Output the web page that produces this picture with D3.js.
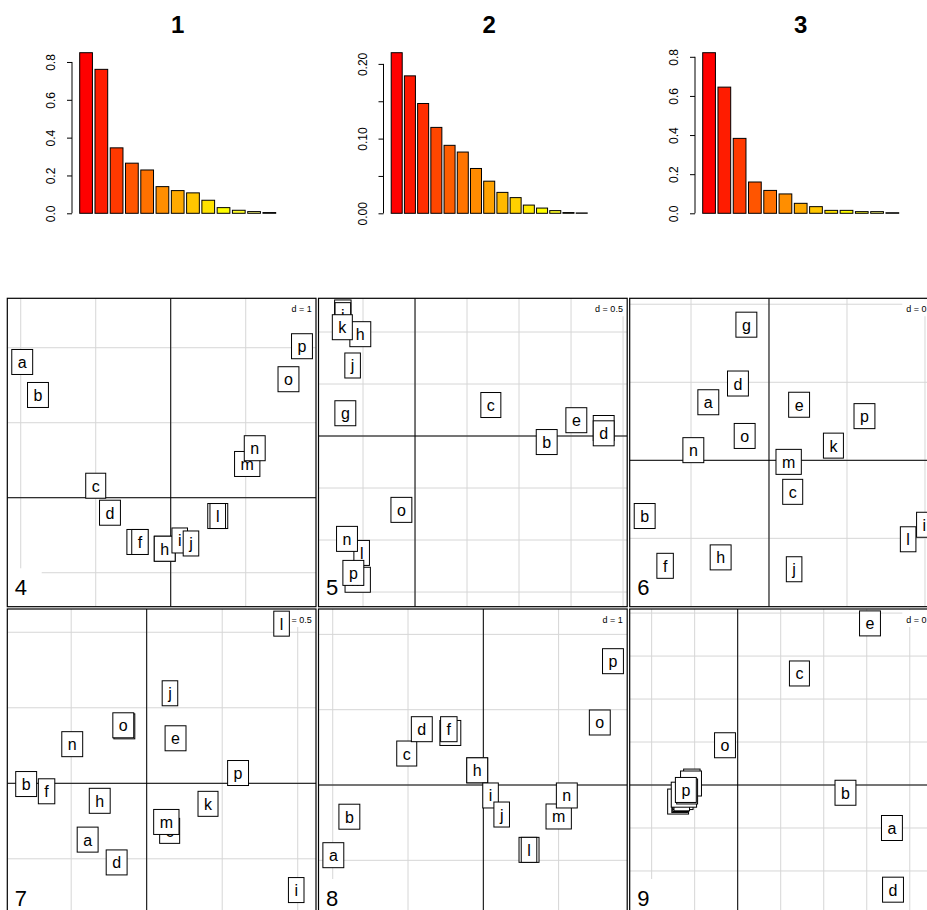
<!DOCTYPE html>
<html>
<head>
<meta charset="utf-8">
<script src="https://cdn.jsdelivr.net/npm/d3@7/dist/d3.min.js"></script>
<style>
  body { margin: 0; background: #fff; }
  svg { display: block; font-family: "Liberation Sans", Arial, sans-serif; }
</style>
</head>
<body>
<svg id="fig"></svg>
<script>
// eigenvalue screeplots (top row)
const eig1 = [0.849, 0.761, 0.346, 0.265, 0.229, 0.141, 0.120, 0.108, 0.069, 0.030, 0.016, 0.009, 0.004];
const eig2 = [0.215, 0.184, 0.147, 0.115, 0.091, 0.082, 0.060, 0.043, 0.028, 0.021, 0.011, 0.007, 0.0036, 0.001, 0.0005];
const eig3 = [0.821, 0.645, 0.383, 0.160, 0.117, 0.099, 0.051, 0.034, 0.015, 0.015, 0.0085, 0.0085, 0.003];
const barTitles = ["1", "2", "3"];
const barTicks = [[0, 0.2, 0.4, 0.6, 0.8], [0, 0.05, 0.10, 0.15, 0.20], [0, 0.2, 0.4, 0.6, 0.8]];
const barTickLabels = [["0.0", "0.2", "0.4", "0.6", "0.8"], ["0.00", "", "0.10", "", "0.20"], ["0.0", "0.2", "0.4", "0.6", "0.8"]];

// scatter panels (s.label) - row labels
const letters = ["a","b","c","d","e","f","g","h","i","j","k","l","m","n","o","p"];
const p4x = [-1.98, -1.77, -1.00, -0.81, -0.445, -0.41, -0.08, -0.08, 0.12, 0.27, 0.627, 0.627, 1.02, 1.12, 1.57, 1.75];
const p4y = [1.81, 1.37, 0.16, -0.20, -0.59, -0.59, -0.68, -0.68, -0.57, -0.61, -0.244, -0.244, 0.45, 0.66, 1.58, 2.02];
const p5x = [1.814, 1.266, 0.729, 1.814, 1.551, -0.694, -0.67, -0.526, -0.694, -0.60, -0.699, -0.513, -0.551, -0.654, -0.131, -0.593];
const p5y = [0.077, -0.058, 0.298, 0.026, 0.152, 1.188, 0.219, 0.979, 1.162, 0.678, 1.046, -1.124, -1.382, -0.989, -0.710, -1.316];
const p6x = [-0.389, -0.797, 0.152, -0.199, 0.193, -0.666, -0.145, -0.310, 0.996, 0.161, 0.413, 0.892, 0.126, -0.485, -0.156, 0.612];
const p6y = [0.372, -0.357, -0.202, 0.492, 0.356, -0.676, 0.869, -0.622, -0.413, -0.698, 0.094, -0.506, -0.010, 0.065, 0.156, 0.283];
const p7x = [-0.391, -0.798, 0.152, -0.199, 0.191, -0.663, -0.148, -0.311, 0.990, 0.154, 0.406, 0.893, 0.130, -0.493, -0.155, 0.605];
const p7y = [-0.373, -0.005, -0.315, -0.524, 0.298, -0.053, 0.377, -0.116, -0.707, 0.596, -0.136, 1.057, -0.256, 0.259, 0.384, 0.068];
const p8x = [-1.992, -1.779, -1.017, -0.817, -0.438, -0.458, -0.081, -0.081, 0.096, 0.244, 0.607, 0.607, 1.001, 1.109, 1.547, 1.722];
const p8y = [-0.932, -0.421, 0.418, 0.741, 0.691, 0.741, 0.195, 0.195, -0.139, -0.392, -0.861, -0.861, -0.418, -0.139, 0.830, 1.644];
const p9x = [0.717, 0.501, 0.287, 0.722, 0.615, -0.213, -0.217, -0.277, -0.270, -0.266, -0.254, -0.260, -0.250, -0.235, -0.059, -0.241];
const p9y = [-0.200, -0.036, 0.519, -0.487, 0.752, 0.016, 0.007, -0.077, -0.070, -0.065, -0.056, -0.062, -0.045, -0.030, 0.185, -0.023];

const panelNames = ["4", "5", "6", "7", "8", "9"];
const panelXlim = [[-2.179, 1.937], [-0.928, 2.040], [-0.893, 1.086], [-0.923, 1.121], [-2.189, 1.911], [-0.502, 0.933]];
const panelYlim = [[-1.453, 2.659], [-1.641, 1.324], [-0.938, 1.038], [-0.888, 1.154], [-1.758, 2.337], [-0.616, 0.819]];
const gridStep = [1, 0.5, 0.5, 0.5, 1, 0.2];

const W = 927, H = 910;
const svg = d3.select('#fig').attr('width', W).attr('height', H);

// R heat.colors
function heatColors(n) {
    const j = Math.floor(n / 4), i = n - j;
    const out = [];
    for (let k = 0; k < i; k++) {
        const h = i > 1 ? (k / (i - 1)) * 60 : 0;
        out.push(d3.hsl(h, 1, 0.5).formatHex());
    }
    for (let k = 0; k < j; k++) {
        const s = j > 1 ? (1 - 1 / (2 * j)) - k * ((1 - 1 / j) / (j - 1)) : 0.5;
        // hsv(1/6, s, 1) -> rgb(255, 255, 255*(1-s))
        out.push(d3.rgb(255, 255, Math.round(255 * (1 - s))).formatHex());
    }
    return out;
}

// ---- top row: bar plots
const barSets = [eig1, eig2, eig3];
barSets.forEach((vals, c) => {
    const off = c * 311.5;
    const g = svg.append('g');
    const x = d3.scaleBand()
        .domain(d3.range(vals.length))
        .range([79.7 + off, 275.7 + off])
        .paddingInner(1 / 6)
        .paddingOuter(0);
    const y = d3.scaleLinear()
        .domain([0, d3.max(vals)])
        .range([213.3, 52.7]);
    const cols = heatColors(vals.length);

    g.selectAll('rect')
        .data(vals)
        .enter()
        .append('rect')
        .attr('x', (d, i) => x(i))
        .attr('y', d => y(d))
        .attr('width', x.bandwidth())
        .attr('height', d => y(0) - y(d))
        .attr('fill', (d, i) => cols[i])
        .attr('stroke', '#000')
        .attr('stroke-width', 1);

    const ticks = barTicks[c];
    const ax = g.append('g')
        .attr('transform', `translate(${72 + off},0)`)
        .call(d3.axisLeft(y).tickValues(ticks).tickSize(5)
            .tickFormat((d, i) => barTickLabels[c][i]));
    ax.select('.domain').remove();
    ax.selectAll('.tick line').attr('stroke', '#000');
    ax.append('line')
        .attr('y1', y(ticks[0])).attr('y2', y(ticks[ticks.length - 1]))
        .attr('stroke', '#000');
    ax.selectAll('.tick text')
        .attr('transform', 'rotate(-90)')
        .attr('x', 0).attr('y', -17).attr('dy', 0)
        .attr('text-anchor', 'middle')
        .attr('fill', '#000')
        .style('font-size', '12px')
        .style('font-family', '"Liberation Sans", Arial, sans-serif');

    g.append('text')
        .attr('x', (79.7 + 275.7) / 2 + off)
        .attr('y', 33)
        .attr('text-anchor', 'middle')
        .style('font-size', '24px')
        .style('font-weight', 'bold')
        .text(barTitles[c]);
});

// ---- bottom: s.label panels
const px = [p4x, p5x, p6x, p7x, p8x, p9x];
const py = [p4y, p5y, p6y, p7y, p8y, p9y];
const colLeft = [7.3, 318.5, 629.7];
const rowTop = [298.3, 609];
const pw = 308.7, ph = 308.4;
const defs = svg.append('defs');

panelNames.forEach((name, k) => {
    const left = colLeft[k % 3], top = rowTop[Math.floor(k / 3)];
    const right = left + pw, bottom = top + ph;
    const sx = d3.scaleLinear().domain(panelXlim[k]).range([left, right]);
    const sy = d3.scaleLinear().domain(panelYlim[k]).range([bottom, top]);
    const d = gridStep[k];

    defs.append('clipPath').attr('id', 'clip' + k)
        .append('rect').attr('x', left).attr('y', top).attr('width', pw).attr('height', ph);
    const g = svg.append('g').attr('clip-path', `url(#clip${k})`);

    // grid
    const gx = d3.range(Math.ceil(panelXlim[k][0] / d), Math.floor(panelXlim[k][1] / d) + 1).map(v => v * d);
    const gy = d3.range(Math.ceil(panelYlim[k][0] / d), Math.floor(panelYlim[k][1] / d) + 1).map(v => v * d);
    g.selectAll('.gx').data(gx).enter().append('line')
        .attr('x1', v => sx(v)).attr('x2', v => sx(v))
        .attr('y1', top).attr('y2', bottom)
        .attr('stroke', '#d6d6d6').attr('stroke-width', 1);
    g.selectAll('.gy').data(gy).enter().append('line')
        .attr('y1', v => sy(v)).attr('y2', v => sy(v))
        .attr('x1', left).attr('x2', right)
        .attr('stroke', '#d6d6d6').attr('stroke-width', 1);

    // d = legend
    const dl = g.append('text')
        .attr('x', right - 4.3).attr('y', top + 14)
        .attr('text-anchor', 'end')
        .style('font-size', '9px')
        .text('d = ' + d);
    const dw = dl.node().getComputedTextLength();
    g.insert('rect', 'text')
        .attr('x', right - 4.3 - dw - 4).attr('y', top + 1)
        .attr('width', dw + 8).attr('height', 17)
        .attr('fill', '#fff');

    // origin axes
    g.append('line').attr('x1', sx(0)).attr('x2', sx(0)).attr('y1', top).attr('y2', bottom)
        .attr('stroke', '#000').attr('stroke-width', 1);
    g.append('line').attr('y1', sy(0)).attr('y2', sy(0)).attr('x1', left).attr('x2', right)
        .attr('stroke', '#000').attr('stroke-width', 1);

    // panel number
    g.append('rect')
        .attr('x', left).attr('y', bottom - 38.4)
        .attr('width', 34.4).attr('height', 38.4)
        .attr('fill', '#fff');
    g.append('text')
        .attr('x', left + 7.5).attr('y', bottom - 11.7)
        .style('font-size', '22px')
        .text(name);

    // labels in boxes
    letters.forEach((lab, i) => {
        const cx = sx(px[k][i]), cy = sy(py[k][i]);
        const lg = g.append('g');
        const r = lg.append('rect');
        const t = lg.append('text')
            .attr('x', cx).attr('y', cy + 6)
            .attr('text-anchor', 'middle')
            .style('font-size', '16px')
            .text(lab);
        const tw = t.node().getComputedTextLength() + 12;
        r.attr('x', cx - tw / 2).attr('y', cy - 12.5)
            .attr('width', tw).attr('height', 25)
            .attr('fill', '#fff').attr('stroke', '#000').attr('stroke-width', 1);
    });

    // frame
    svg.append('rect')
        .attr('x', left).attr('y', top).attr('width', pw).attr('height', ph)
        .attr('fill', 'none').attr('stroke', '#000').attr('stroke-width', 1.2);
});
</script>
</body>
</html>
